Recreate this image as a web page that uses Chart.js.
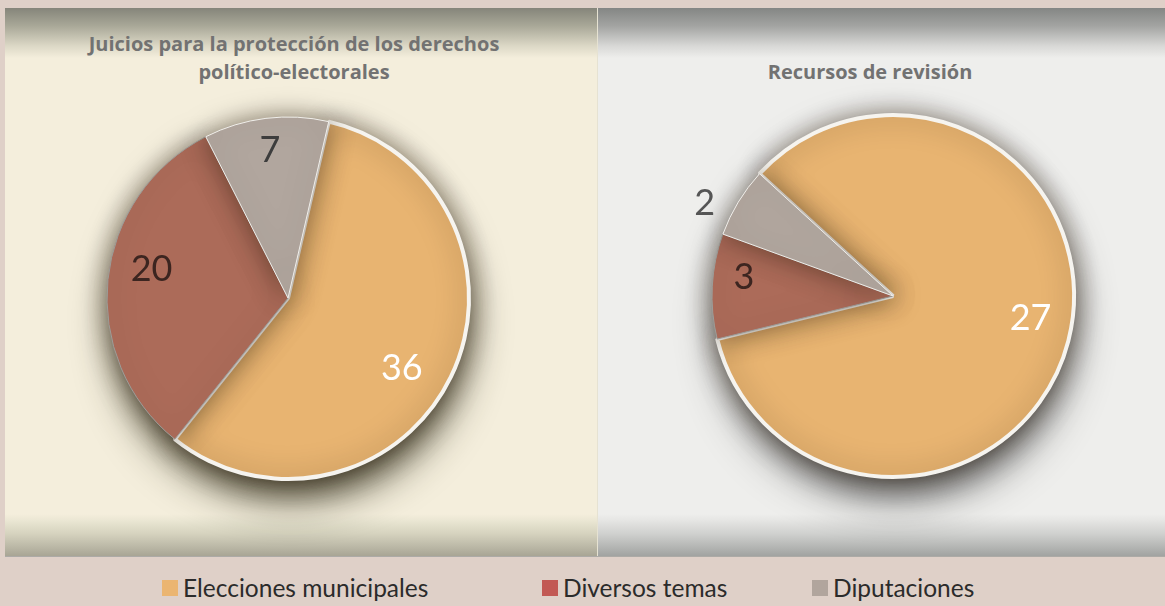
<!DOCTYPE html>
<html>
<head>
<meta charset="utf-8">
<script src="https://cdn.jsdelivr.net/npm/chart.js@4.4.0/dist/chart.umd.min.js"></script>
<style>
    html, body { margin: 0; padding: 0; }
    body { width: 1165px; height: 606px; position: relative; overflow: hidden; background: #dfd0c8; font-family: Lato, sans-serif; }
    .panel { position: absolute; top: 8px; height: 548px; }
    #panelLeft {
        left: 5px; width: 592px;
        background: linear-gradient(to bottom, #85857a 0px, #a9a898 18px, #dcd8c6 38px, #f4eedc 50px,
            #f4eedc 506px, #ebe7d4 512px, #d5d2be 526px, #a8a595 548px);
    }
    #panelRight {
        left: 597px; width: 568px; border-left: 1px solid #e6e2d2;
        background: linear-gradient(to bottom, #848684 0px, #a3a4a2 18px, #d8d8d6 38px, #eeeeec 50px,
            #eeeeec 506px, #e6e6e4 512px, #cfd0ce 526px, #a1a3a1 548px);
    }
    .rule { position: absolute; left: 5px; right: 0; top: 556px; height: 1px; background: #acaaa6; }
    .title { position: absolute; text-align: center; color: #727272; font: 700 20px "Open Sans", sans-serif; line-height: 28px; width: 560px; }
    .box { position: absolute; width: 500px; height: 500px; }
    .lg { position: absolute; top: 573px; display: flex; align-items: center; font-size: 24.5px; color: #2b2b2b; white-space: nowrap; }
    .lg span.sw { display: inline-block; width: 16px; height: 16px; margin-right: 5px; }
</style>
</head>
<body>
<div id="panelLeft" class="panel"></div>
<div id="panelRight" class="panel"></div>
<div class="rule"></div>
<div id="titleLeft" class="title" style="left:14px; top:30px;"></div>
<div id="titleRight" class="title" style="left:590px; top:58px;"></div>
<div class="box" style="left:38px; top:48px;"><canvas id="pieJuicios"></canvas></div>
<div class="box" style="left:643px; top:46px;"><canvas id="pieRecursos"></canvas></div>
<div id="legend"></div>
<script>
// Data
const CATEGORIES = ['Elecciones municipales', 'Diversos temas', 'Diputaciones'];
const JUICIOS = [36, 20, 7];
const RECURSOS = [27, 3, 2];
const TITLE_JUICIOS = ['Juicios para la protección de los derechos', 'político-electorales'];
const TITLE_RECURSOS = ['Recursos de revisión'];

// Styles
const SLICE_COLORS = ['#e8b471', '#ac6b59', '#b1a69e'];
const LEGEND_COLORS = ['#ebb571', '#c25954', '#b1a59d'];
const LEGEND_X = [162, 542, 812];

document.getElementById('titleLeft').innerHTML = TITLE_JUICIOS.join('<br>');
document.getElementById('titleRight').innerHTML = TITLE_RECURSOS.join('<br>');
document.getElementById('legend').innerHTML = CATEGORIES.map((c, i) =>
    `<div class="lg" style="left:${LEGEND_X[i]}px"><span class="sw" style="background:${LEGEND_COLORS[i]}"></span>${c}</div>`).join('');

// Drop shadow under the pie + soft shading between slices, then value labels.
const pieDecor = {
    id: 'pieDecor',
    beforeDatasetsDraw(chart, args, opts) {
        const arc = chart.getDatasetMeta(0).data[0];
        const ctx = chart.ctx;
        ctx.save();
        ctx.shadowColor = opts.shadow;
        ctx.shadowBlur = 42;
        ctx.shadowOffsetY = 24;
        ctx.shadowOffsetX = 3;
        ctx.beginPath();
        ctx.arc(arc.x, arc.y, arc.outerRadius - 6, 0, Math.PI * 2);
        ctx.fillStyle = '#777';
        ctx.fill();
        ctx.restore();
        ctx.save();
        ctx.shadowColor = 'rgba(40,25,10,0.5)';
        ctx.shadowBlur = 26;
    },
    afterDatasetsDraw(chart, args, opts) {
        const ctx = chart.ctx;
        ctx.restore();
        const ds = chart.data.datasets[0];
        chart.getDatasetMeta(0).data.forEach((el, i) => {
            const { x, y, startAngle, endAngle, outerRadius } = el.getProps(['x', 'y', 'startAngle', 'endAngle', 'outerRadius'], true);
            const mid = (startAngle + endAngle) / 2 + opts.labelShift[i] * Math.PI / 180;
            const r = outerRadius * opts.labelRadius[i];
            ctx.save();
            ctx.font = '400 36px Lato, sans-serif';
            ctx.fillStyle = opts.labelColors[i];
            ctx.textAlign = 'center';
            ctx.textBaseline = 'middle';
            ctx.fillText(String(ds.data[i]), x + Math.cos(mid) * r, y + Math.sin(mid) * r);
            ctx.restore();
        });
    }
};

function makePie(id, values, rotation, label, shadow) {
    return new Chart(document.getElementById(id), {
        type: 'pie',
        data: {
            labels: CATEGORIES,
            datasets: [{
                data: values,
                backgroundColor: SLICE_COLORS,
                borderColor: ['#f6f4ef', '#9c9c98', '#f0eeea'],
                borderWidth: [4, 1, 1],
            }]
        },
        options: {
            responsive: true, maintainAspectRatio: false,
            animation: false,
            rotation: rotation,
            radius: 181,
            plugins: {
                legend: { display: false },
                tooltip: { enabled: false },
                pieDecor: { ...label, shadow },
            }
        },
        plugins: [pieDecor]
    });
}

makePie('pieJuicios', JUICIOS, 13,
    { labelRadius: [0.74, 0.77, 0.82], labelShift: [6, 6, 0], labelColors: ['#ffffff', '#3c2520', '#3d3d3d'] },
    'rgba(45,42,22,0.9)');
makePie('pieRecursos', RECURSOS, -47.5,
    { labelRadius: [0.77, 0.83, 1.16], labelShift: [-5, 4, -5], labelColors: ['#ffffff', '#3c2520', '#555555'] },
    'rgba(40,40,40,0.8)');
</script>
</body>
</html>
